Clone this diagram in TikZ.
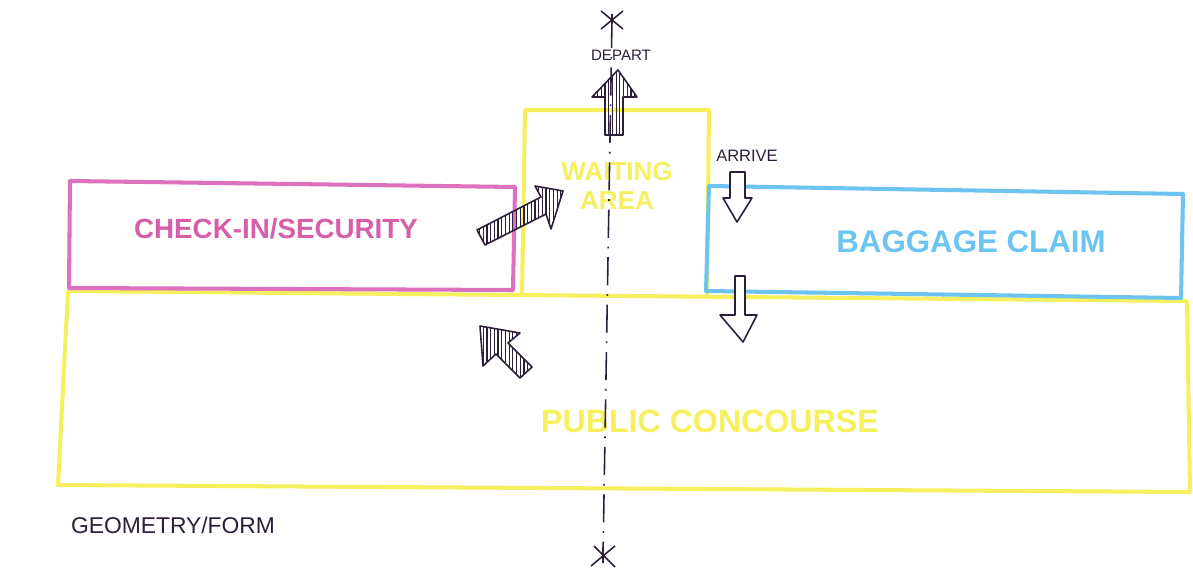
\documentclass[tikz,border=0pt]{standalone}
\usepackage{fontspec}
\setmainfont{Liberation Sans}
\usetikzlibrary{patterns.meta,calc}
\definecolor{pinkline}{RGB}{222,112,192}
\definecolor{pinktext}{RGB}{215,95,170}
\definecolor{blueline}{RGB}{110,196,240}
\definecolor{yel}{RGB}{246,240,95}
\definecolor{ink}{RGB}{45,30,58}
\tikzset{
  box/.style={line width=2.3pt, line join=round},
  fatarrow/.style={draw=ink, line width=0.9pt, line join=round,
    pattern={Lines[angle=90,distance=2.1pt,line width=0.7pt]}, pattern color=ink},
  openarrow/.style={draw=ink, line width=0.9pt, line join=round, fill=white},
  lbl/.style={inner sep=0pt, text=ink},
  area/.style={inner sep=0pt},
  axis/.style={draw=ink, line width=0.9pt, dash pattern=on 16pt off 5pt on 1pt off 5pt},
}
\begin{document}
\begin{tikzpicture}[x=0.02cm, y=-0.02cm]
\useasboundingbox (0,0) rectangle (1193,574);
\fill[white] (0,0) rectangle (1193,574);

% public concourse
\draw[box, yel] (68,291) -- (1187,301) -- (1190,492) -- (58,485) -- cycle;
% waiting area
\draw[box, yel] (522,296) -- (525,110) -- (709,110) -- (707,296);
% check-in / security
\draw[box, pinkline] (70,181) -- (515,187) -- (513,290) -- (69,288) -- cycle;
% baggage claim
\draw[box, blueline] (709,186) -- (1183,194) -- (1181,298) -- (706,291) -- cycle;

% texts
\node[area, text=pinktext, font=\bfseries\fontsize{15.8}{18}\selectfont] (checkin) at (276,229) {CHECK-IN/SECURITY};
\node[area, text=blueline, font=\bfseries\fontsize{17.8}{20}\selectfont] (baggage) at (971,242) {BAGGAGE CLAIM};
\node[area, text=yel, align=center, font=\bfseries\fontsize{14.8}{16.5}\selectfont] (waiting) at (617,186) {WAITING\\AREA};
\node[area, text=yel, font=\bfseries\fontsize{18.3}{21}\selectfont] (concourse) at (710,421) {PUBLIC CONCOURSE};
\node[lbl, font=\fontsize{8.6}{10}\selectfont] (depart) at (621,55) {DEPART};
\node[lbl, font=\fontsize{9.4}{11}\selectfont] (arrive) at (747,156) {ARRIVE};
\node[lbl, font=\fontsize{13}{14}\selectfont] (geom) at (173,525) {GEOMETRY/FORM};

% axis
\coordinate (axtop) at (612,20);
\coordinate (axbot) at (603,555);
\draw[axis] (axtop) -- (axbot);
\draw[ink, line width=0.9pt] ($(axtop)+(-11,-9)$) -- ($(axtop)+(11,9)$)
  ($(axtop)+(-11,9)$) -- ($(axtop)+(11,-9)$) ($(axtop)+(0,-6)$) -- ($(axtop)+(0,4)$);
\draw[ink, line width=0.9pt] ($(axbot)+(-12,11)$) -- ($(axbot)+(12,-9)$)
  ($(axbot)+(-9,-9)$) -- ($(axbot)+(12,12)$) ($(axbot)+(0,-8)$) -- ($(axbot)+(0,8)$);

% hatched arrows
\draw[fatarrow] (605,135) -- (605,97) -- (592,97) -- (618,70) -- (637,97) -- (623,97) -- (623,135) -- cycle;
\draw[fatarrow] (477,230) -- (541,197) -- (535,186) -- (563,191) -- (551,229) -- (546,214) -- (485,245) -- cycle;
\draw[fatarrow] (480,326) -- (520,333) -- (508,343) -- (532,367) -- (520,378) -- (496,354) -- (483,366) -- cycle;

% open arrows
\draw[openarrow] (730,172) -- (730,198) -- (723,198) -- (737,222) -- (752,198) -- (745,198) -- (745,172) -- cycle;
\draw[openarrow] (735,276) -- (735,315) -- (720,315) -- (743,342) -- (757,315) -- (745,315) -- (745,276) -- cycle;
\end{tikzpicture}
\end{document}
